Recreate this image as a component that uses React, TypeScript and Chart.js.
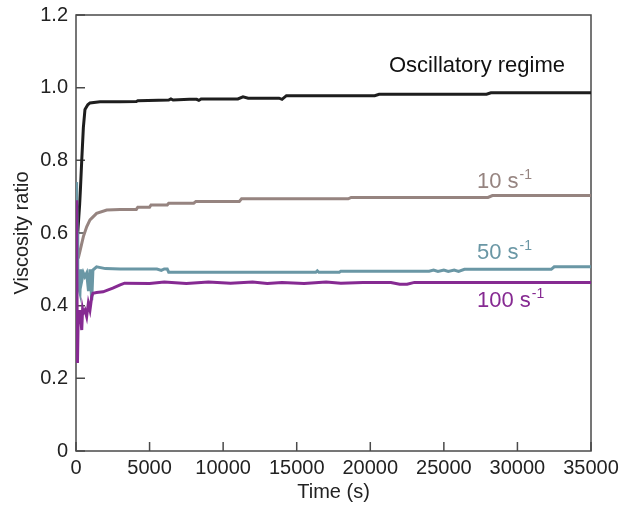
import React, { useEffect, useRef } from "react";
import { Chart, registerables } from "chart.js";

Chart.register(...registerables);

// ---- Data ----
const oscT = [0, 80, 150, 250, 300, 390, 500, 610, 800, 950, 1630, 3000, 4100, 4200, 6300, 6450, 6600, 7700, 8200, 8350, 8500, 11000, 11350, 11700, 13800, 14000, 14300, 20300, 20600, 27900, 28200, 35000];
const oscV = [0.66, 0.63, 0.62, 0.68, 0.72, 0.8, 0.89, 0.94, 0.953, 0.958, 0.961, 0.961, 0.962, 0.964, 0.966, 0.969, 0.966, 0.968, 0.968, 0.965, 0.969, 0.969, 0.975, 0.971, 0.971, 0.968, 0.978, 0.978, 0.982, 0.982, 0.986, 0.986];

const s10T = [150, 270, 500, 725, 950, 1400, 2090, 3000, 4100, 4200, 5000, 5100, 6200, 6300, 8000, 8150, 11100, 11250, 18500, 18700, 28000, 28300, 35000];
const s10V = [0.53, 0.55, 0.59, 0.617, 0.636, 0.654, 0.663, 0.665, 0.665, 0.671, 0.671, 0.677, 0.677, 0.682, 0.682, 0.687, 0.687, 0.694, 0.694, 0.698, 0.698, 0.703, 0.703];

const s50T = [0, 40, 80, 120, 180, 270, 330, 400, 500, 600, 725, 850, 950, 1070, 1150, 1400, 2000, 3000, 5500, 5800, 6000, 6200, 6300, 16300, 16400, 16500, 17900, 18000, 24000, 24300, 24600, 25000, 25300, 25700, 26000, 26400, 32300, 32500, 35000];
const s50V = [0.7, 0.74, 0.6, 0.5, 0.45, 0.435, 0.5, 0.47, 0.49, 0.48, 0.49, 0.44, 0.5, 0.415, 0.498, 0.507, 0.502, 0.501, 0.501, 0.497, 0.501, 0.501, 0.492, 0.492, 0.496, 0.492, 0.492, 0.495, 0.495, 0.498, 0.494, 0.498, 0.494, 0.498, 0.494, 0.5, 0.5, 0.507, 0.507];

const s100T = [0, 50, 100, 150, 200, 270, 330, 390, 450, 500, 610, 725, 840, 950, 1070, 1150, 1400, 1840, 2500, 3000, 3300, 5000, 6000, 7500, 9000, 10500, 12000, 13000, 14000, 15500, 17000, 18000, 19500, 21400, 22000, 22500, 23000, 35000];
const s100V = [0.69, 0.55, 0.242, 0.37, 0.35, 0.388, 0.36, 0.333, 0.39, 0.38, 0.388, 0.37, 0.407, 0.388, 0.425, 0.434, 0.436, 0.438, 0.448, 0.457, 0.462, 0.461, 0.465, 0.461, 0.465, 0.462, 0.465, 0.461, 0.464, 0.461, 0.465, 0.462, 0.464, 0.464, 0.459, 0.459, 0.464, 0.464];

const yTicks = [0, 0.2, 0.4, 0.6, 0.8, 1.0, 1.2];
const xTicks = [0, 5000, 10000, 15000, 20000, 25000, 30000, 35000];

const seriesNames = ["Oscillatory regime", "10 s", "50 s", "100 s"];
const colors = ["#1e1e1e", "#968480", "#6a97a5", "#862a92"];

const toPts = (t: number[], v: number[]) => t.map((x, i) => ({ x, y: v[i] }));

const FONT = "'Liberation Sans', Arial, sans-serif";

export default function App() {
  const ref = useRef<HTMLCanvasElement | null>(null);

  useEffect(() => {
    const canvas = ref.current;
    if (!canvas) return;

    const framePlugin = {
      id: "frame",
      beforeDatasetsDraw(chart: any) {
        const { ctx, chartArea, scales } = chart;
        const { left, right, top, bottom } = chartArea;
        ctx.save();
        ctx.strokeStyle = "#4a4a4a";
        ctx.lineWidth = 1.5;
        ctx.strokeRect(left, top, right - left, bottom - top);
        ctx.beginPath();
        yTicks.forEach((v) => {
          const py = scales.y.getPixelForValue(v);
          ctx.moveTo(left, py);
          ctx.lineTo(left + 9, py);
        });
        xTicks.forEach((v) => {
          const px = scales.x.getPixelForValue(v);
          ctx.moveTo(px, bottom);
          ctx.lineTo(px, bottom - 9);
        });
        ctx.stroke();
        ctx.restore();
      },
      afterDraw(chart: any) {
        const { ctx } = chart;
        ctx.save();
        ctx.textBaseline = "alphabetic";
        ctx.textAlign = "left";
        const drawLabel = (text: string, sup: string, x: number, y: number, color: string) => {
          ctx.fillStyle = color;
          ctx.font = `22px ${FONT}`;
          ctx.fillText(text, x, y);
          if (sup) {
            const w = ctx.measureText(text).width;
            ctx.font = `14px ${FONT}`;
            ctx.fillText(sup, x + w + 1, y - 9);
          }
        };
        drawLabel(seriesNames[0], "", 389, 72, "#111");
        drawLabel(seriesNames[1], "-1", 477, 188, colors[1]);
        drawLabel(seriesNames[2], "-1", 477, 259, colors[2]);
        drawLabel(seriesNames[3], "-1", 477, 307, colors[3]);
        ctx.restore();
      },
    };

    const ds = (t: number[], v: number[], c: string, label: string) => ({
      label,
      data: toPts(t, v),
      borderColor: c,
      backgroundColor: c,
      borderWidth: 3,
      pointRadius: 0,
      tension: 0,
      fill: false,
    });

    const chart = new Chart(canvas, {
      type: "line",
      data: {
        datasets: [
          ds(s100T, s100V, colors[3], seriesNames[3]),
          ds(s50T, s50V, colors[2], seriesNames[2]),
          ds(s10T, s10V, colors[1], seriesNames[1]),
          ds(oscT, oscV, colors[0], seriesNames[0]),
        ],
      },
      options: {
        animation: false,
        responsive: false,
        devicePixelRatio: 1,
        layout: { padding: { left: 0, top: 15, right: 30, bottom: 0 } },
        plugins: { legend: { display: false }, tooltip: { enabled: false } },
        scales: {
          x: {
            type: "linear",
            min: 0,
            max: 35000,
            afterFit: (s: any) => {
              s.height = 55;
              s.paddingLeft = 0;
              s.paddingRight = 0;
            },
            afterBuildTicks: (s: any) => {
              s.ticks = xTicks.map((v) => ({ value: v }));
            },
            grid: { display: false, drawTicks: false },
            border: { display: false },
            ticks: {
              color: "#222",
              font: { family: FONT, size: 20 },
              padding: 5,
              maxRotation: 0,
              autoSkip: false,
              callback: (v: any) => String(v),
            },
            title: {
              display: true,
              text: "Time (s)",
              color: "#222",
              font: { family: FONT, size: 20 },
              padding: { top: 0, bottom: 2 },
            },
          },
          y: {
            type: "linear",
            min: 0,
            max: 1.2,
            afterFit: (s: any) => {
              s.width = 76;
              s.paddingTop = 0;
              s.paddingBottom = 0;
            },
            afterBuildTicks: (s: any) => {
              s.ticks = yTicks.map((v) => ({ value: v }));
            },
            grid: { display: false, drawTicks: false },
            border: { display: false },
            ticks: {
              color: "#222",
              font: { family: FONT, size: 20 },
              padding: 8,
              autoSkip: false,
              callback: (v: any) => (Number(v) === 0 ? "0" : Number(v).toFixed(1)),
            },
            title: {
              display: true,
              text: "Viscosity ratio",
              color: "#222",
              font: { family: FONT, size: 20 },
              padding: { top: 10, bottom: 0 },
            },
          },
        },
      },
      plugins: [framePlugin],
    } as any);

    return () => chart.destroy();
  }, []);

  return (
    <div style={{ position: "fixed", left: 0, top: 0, width: 621, height: 506, background: "#fff" }}>
      <canvas ref={ref} width={621} height={506} style={{ width: 621, height: 506, display: "block" }} />
    </div>
  );
}
